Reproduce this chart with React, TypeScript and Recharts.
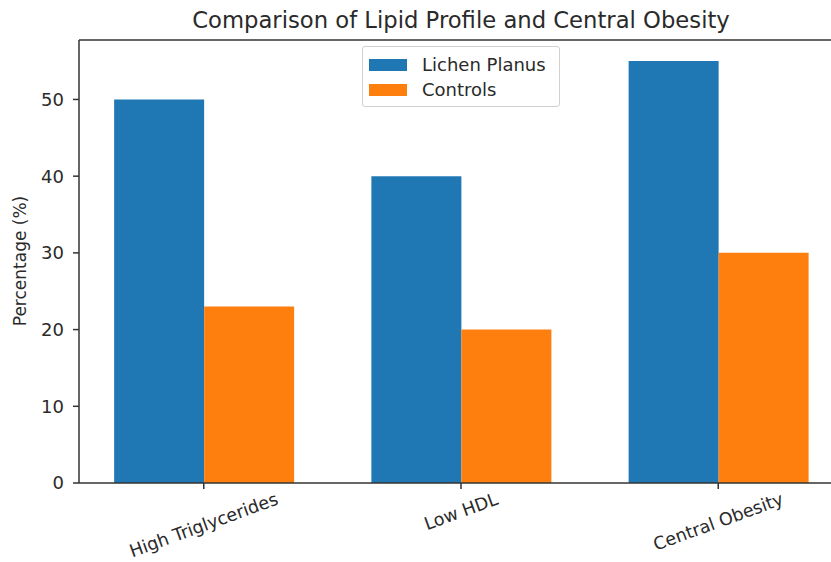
import React from 'react';
import { BarChart, Bar, XAxis, YAxis, ReferenceLine } from 'recharts';

const categories = ['High Triglycerides', 'Low HDL', 'Central Obesity'];
const lichenPlanus = [50, 40, 55];
const controls = [23, 20, 30];
const yTicks = [0, 10, 20, 30, 40, 50];
const yMax = 57.75;
const seriesNames = ['Lichen Planus', 'Controls'];
const colors = ['#1f77b4', '#ff7f0e'];

const data = categories.map((c, i) => ({ idx: i, name: c, lichen: lichenPlanus[i], controls: controls[i] }));

const FONT = '"DejaVu Sans", sans-serif';
const TEXT = '#2a2a2a';

let canvas: HTMLCanvasElement | null = null;
function measure(text: string, size: number) {
  if (!canvas) canvas = document.createElement('canvas');
  const ctx = canvas.getContext('2d')!;
  ctx.font = `${size}px "DejaVu Sans"`;
  return ctx.measureText(text).width;
}

const XTick = (props: any) => {
  const { x, y, payload } = props;
  const label = categories[payload.value] ?? '';
  const fs = 17.6;
  const w = measure(label, fs);
  const h = fs * 1.0;
  const a = (20 * Math.PI) / 180;
  const boxH = w * Math.sin(a) + h * Math.cos(a);
  const cy = y + 1 + boxH / 2;
  return (
    <text
      x={x}
      y={cy}
      textAnchor="middle"
      dominantBaseline="central"
      fontSize={fs}
      fontFamily={FONT}
      fill={TEXT}
      transform={`rotate(-20 ${x} ${cy})`}
    >
      {label}
    </text>
  );
};

const LegendBox = () => (
  <div
    style={{
      position: 'absolute',
      left: 362,
      top: 46,
      border: '1px solid #d0d0d0',
      borderRadius: 3,
      background: 'rgba(255,255,255,0.8)',
      padding: '5px 8px 4px 6px',
      fontFamily: FONT,
      fontSize: 18,
      color: TEXT,
      width: 182,
      boxSizing: 'content-box',
      zIndex: 2,
    }}
  >
    {seriesNames.map((n, i) => (
      <div key={n} style={{ display: 'flex', alignItems: 'center', height: 25 }}>
        <span style={{ display: 'inline-block', width: 38, height: 12, background: colors[i], marginRight: 15 }} />
        <span>{n}</span>
      </div>
    ))}
  </div>
);

export default function App() {
  return (
    <div style={{ position: 'absolute', left: 0, top: 0, width: 831, height: 562, overflow: 'hidden', background: '#fff' }}>
      <div
        style={{
          position: 'absolute',
          left: 79,
          width: 764,
          top: 7,
          textAlign: 'center',
          fontFamily: FONT,
          fontSize: 22.7,
          color: TEXT,
          lineHeight: '26px',
        }}
      >
        Comparison of Lipid Profile and Central Obesity
      </div>
      <BarChart
        width={860}
        height={562}
        data={data}
        margin={{ top: 40, right: 17, bottom: 0, left: 0 }}
        barGap={0}
        barSize={90}
      >
        <XAxis
          dataKey="idx"
          type="number"
          domain={[-0.485, 2.485]}
          ticks={[0, 1, 2]}
          allowDataOverflow
          height={79}
          tick={<XTick />}
          tickSize={6}
          tickMargin={0}
          tickLine={{ stroke: '#333', strokeWidth: 1.5 }}
          axisLine={{ stroke: '#333', strokeWidth: 1.5 }}
          interval={0}
        />
        <YAxis
          width={79}
          domain={[0, yMax]}
          ticks={yTicks}
          allowDataOverflow
          tickSize={6}
          tickMargin={9}
          tick={{ fontSize: 18, fontFamily: FONT, fill: TEXT }}
          tickLine={{ stroke: '#333', strokeWidth: 1.5 }}
          axisLine={{ stroke: '#333', strokeWidth: 1.5 }}
          label={{
            content: () => (
              <text
                x={20}
                y={261}
                transform="rotate(-90 20 261)"
                textAnchor="middle"
                dominantBaseline="central"
                fontSize={17}
                fontFamily={FONT}
                fill={TEXT}
              >
                Percentage (%)
              </text>
            ),
          }}
        />
        <ReferenceLine y={yMax} stroke="#333" strokeWidth={1.5} />
        <Bar dataKey="lichen" name={seriesNames[0]} fill={colors[0]} isAnimationActive={false} />
        <Bar dataKey="controls" name={seriesNames[1]} fill={colors[1]} isAnimationActive={false} />
      </BarChart>
      <LegendBox />
    </div>
  );
}
